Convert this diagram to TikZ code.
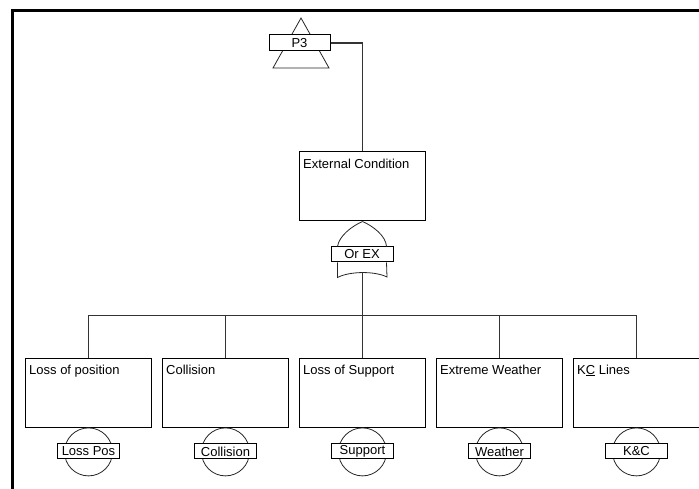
\documentclass[tikz,border=0pt]{standalone}
\usepackage{fontspec}
\setmainfont{Liberation Sans}
\usetikzlibrary{shapes.geometric}
\tikzstyle{event} = [rectangle, minimum width=126pt, minimum height=69pt, inner sep=0pt, draw=black, line width=1pt]
\tikzstyle{tag} = [rectangle, minimum width=62pt, minimum height=15pt, inner sep=0pt, draw=black, line width=1pt, fill=white]
\tikzstyle{basic} = [circle, minimum size=48pt, inner sep=0pt, draw=black!85, line width=0.8pt]
\tikzstyle{line} = [draw=black!80, line width=1.1pt]
\tikzstyle{outline} = [draw=black!85, line width=0.8pt]
\tikzstyle{frame} = [draw=black, line width=3pt]
\tikzset{title/.style={label={[anchor=north west, inner sep=0pt, xshift=4pt, yshift=-7pt]north west:#1}}}

\begin{document}
\begin{tikzpicture}[x=1pt, y=-1pt, node distance=206pt, font=\fontsize{13}{15}\selectfont]
   \useasboundingbox (0,0) rectangle (699,489);
   \draw [frame] (12.5,489) -- (12.5,10.5) -- (699,10.5);
   % top event
   \draw [outline] (301,18) -- (273,68) -- (329,68) -- cycle;
   \node (p3) [tag, minimum width=61pt, minimum height=16pt] at (299.5,43) {P3};
   \node (ext) [event, title={External Condition}] at (362.5,186.5) {};
   \draw [line] (p3.east) -| (ext.north);
   % or gate
   \node (gate) [tag] at (362,254.5) {Or EX};
   \coordinate (gout) at (362.5,272.5);
   \draw [outline] (ext.south) .. controls (352,226) and (339,236) .. ([xshift=7pt]gate.north west);
   \draw [outline] (ext.south) .. controls (373,226) and (386,236) .. ([xshift=-7pt]gate.north east);
   \draw [outline] ([xshift=7pt]gate.south west) -- ++(0,15) .. controls (350,271) and (375,271) .. (387,277) -- ([xshift=-7pt]gate.south east);
   % bottom events
   \node (sup) [event, below of=ext, title={Loss of Support}] {};
   \node (pos) [event, below of=ext, xshift=-274pt, title={Loss of position}] {};
   \node (col) [event, below of=ext, xshift=-137pt, title={Collision}] {};
   \node (wea) [event, below of=ext, xshift=137pt, title={Extreme Weather}] {};
   \node (kc) [event, below of=ext, xshift=274pt, title={K\underline{C} Lines}] {};
   \draw [line] (gout) -- (sup.north);
   \draw [line] (pos.north) -- ++(0,-42) -| (kc.north);
   \foreach \n in {col,wea}
      \draw [line] (\n.north) -- ++(0,-42);
   % basic events
   \foreach \n/\t in {pos/Loss Pos, col/Collision, sup/Support, wea/Weather, kc/K\&C} {
      \node (b\n) [basic, anchor=north] at (\n.south) {};
      \node (t\n) [tag] at ([yshift=0.5pt]b\n.center) {\t};
   }
\end{tikzpicture}
\end{document}
